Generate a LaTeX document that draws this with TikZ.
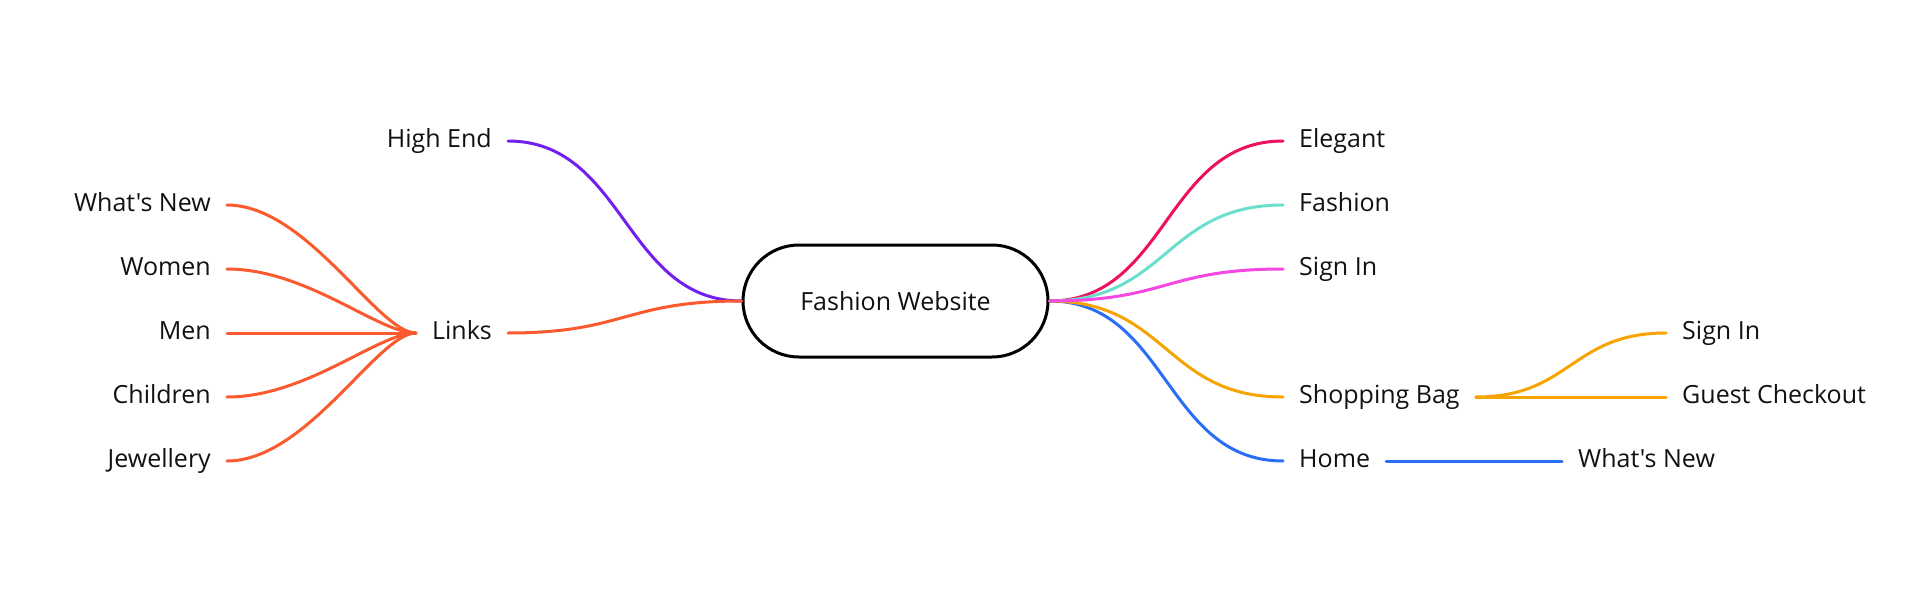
\documentclass[tikz,border=0pt]{standalone}
\usepackage{fontspec}
\newfontfamily\osans{Open Sans}
\usetikzlibrary{shapes.misc}
\definecolor{cpurple}{HTML}{7120F0}
\definecolor{corange}{HTML}{FA5A2D}
\definecolor{cred}{HTML}{EE1060}
\definecolor{cteal}{HTML}{6BDFCB}
\definecolor{cpink}{HTML}{F448E0}
\definecolor{cyellow}{HTML}{F7A400}
\definecolor{cblue}{HTML}{2B6EF6}
\definecolor{ctext}{HTML}{111111}
\begin{document}
\begin{tikzpicture}[x=1pt,y=-1pt,
  lbl/.style={inner xsep=16pt,inner ysep=0pt,text height=18pt,text depth=5pt,
    font=\osans\fontsize{25}{30}\selectfont,text=ctext},
  lleft/.style={lbl,anchor=east},
  lright/.style={lbl,anchor=west},
  root/.style={rounded rectangle,draw=black,line width=3pt,minimum width=305pt,
    minimum height=112pt,inner sep=0pt,font=\osans\fontsize{25}{30}\selectfont,text=ctext},
  edge/.style={line width=3pt,line cap=round}]
\useasboundingbox (0,0) rectangle (1920,613);
% nodes
\node[root] (root) at (895.5,301) {Fashion Website};
\node[lleft] (highend) at (508,141) {High End};
\node[lleft] (links) at (508,333) {Links};
\node[lleft] (lwhat) at (227,205) {What's New};
\node[lleft] (lwomen) at (227,269) {Women};
\node[lleft] (lmen) at (227,333) {Men};
\node[lleft] (lchild) at (227,397) {Children};
\node[lleft] (ljewel) at (227,461) {Jewellery};
\node[lright] (elegant) at (1283,141) {Elegant};
\node[lright] (fashion) at (1283,205) {Fashion};
\node[lright] (signin) at (1283,269) {Sign In};
\node[lright] (shop) at (1283,397) {Shopping Bag};
\node[lright] (home) at (1283,461) {Home};
\node[lright] (signin2) at (1666,333) {Sign In};
\node[lright] (guest) at (1666,397) {Guest Checkout};
\node[lright] (rwhat) at (1562,461) {What's New};
% left edges
\draw[edge,cpurple] (root.west) .. controls +(-117,0) and +(117,0) .. (highend.east);
\draw[edge,corange] (root.west) .. controls +(-117,0) and +(117,0) .. (links.east);
\draw[edge,corange] (lwhat.east) .. controls +(80,0) and +(-38,0) .. (links.west);
\draw[edge,corange] (lwomen.east) .. controls +(80,0) and +(-38,0) .. (links.west);
\draw[edge,corange] (lmen.east) -- (links.west);
\draw[edge,corange] (lchild.east) .. controls +(80,0) and +(-38,0) .. (links.west);
\draw[edge,corange] (ljewel.east) .. controls +(80,0) and +(-38,0) .. (links.west);
% right edges
\draw[edge,cblue] (root.east) .. controls +(118,0) and +(-118,0) .. (home.west);
\draw[edge,cyellow] (root.east) .. controls +(118,0) and +(-118,0) .. (shop.west);
\draw[edge,cred] (root.east) .. controls +(118,0) and +(-118,0) .. (elegant.west);
\draw[edge,cteal] (root.east) .. controls +(118,0) and +(-118,0) .. (fashion.west);
\draw[edge,cpink] (root.east) .. controls +(118,0) and +(-118,0) .. (signin.west);
\draw[edge,cyellow] (shop.east) .. controls +(95,0) and +(-95,0) .. (signin2.west);
\draw[edge,cyellow] (shop.east) -- (guest.west);
\draw[edge,cblue] (home.east) -- (rwhat.west);
\end{tikzpicture}
\end{document}
